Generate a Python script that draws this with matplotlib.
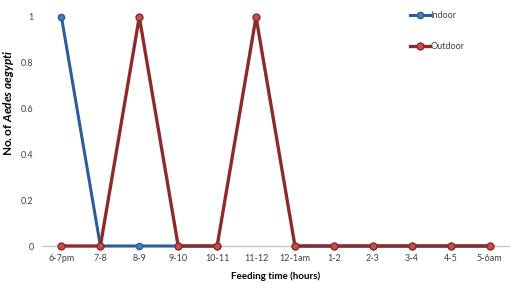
import matplotlib
matplotlib.use("Agg")
import matplotlib.pyplot as plt
import numpy as np

categories = ["6-7pm", "7-8", "8-9", "9-10", "10-11", "11-12", "12-1am",
              "1-2", "2-3", "3-4", "4-5", "5-6am"]
indoor = [1, 0, 0, 0, 0, np.nan, 0, 0, 0, 0, 0, 0]
outdoor = [0, 0, 1, 0, 0, 1, 0, 0, 0, 0, 0, 0]
yticks = [0, 0.2, 0.4, 0.6, 0.8, 1]
ytick_labels = ["0", "0.2", "0.4", "0.6", "0.8", "1"]

plt.rcParams['font.family'] = ['Lato', 'DejaVu Sans']
plt.rcParams['mathtext.fontset'] = 'custom'
plt.rcParams['mathtext.rm'] = 'Lato'
plt.rcParams['mathtext.bf'] = 'Lato:bold'
plt.rcParams['mathtext.it'] = 'Lato:italic'
plt.rcParams['mathtext.bfit'] = 'Lato:bold:italic'

fig = plt.figure(figsize=(5.11, 2.91), dpi=100)
ax = fig.add_axes([42/511, 1 - 246/291, 467/511, (246 - 17)/291])

x = list(range(len(categories)))
ax.plot(x, indoor, color="#2c5d98", lw=2.2, marker="o", ms=4.5,
        mfc="#4a7ebb", mec="#2c5d98", mew=1, label="Indoor", zorder=3)
ax.plot(x, outdoor, color="#8c2b2b", lw=2.4, marker="o", ms=5,
        mfc="#c0504d", mec="#8c2b2b", mew=1, label="Outdoor", zorder=4)

ax.set_xlim(-0.5, len(categories) - 0.5)
ax.set_ylim(0, 1)
ax.set_xticks(x)
ax.set_xticklabels(categories, fontsize=6.5, color="#404040")
ax.set_yticks(yticks)
ax.set_yticklabels(ytick_labels, fontsize=6.5, color="#404040")
ax.tick_params(length=0, pad=6)
ax.tick_params(axis="y", pad=6)
for s in ["top", "right", "left"]:
    ax.spines[s].set_visible(False)
ax.spines["bottom"].set_color("#c8c8c8")
ax.spines["bottom"].set_linewidth(1)
ax.spines["bottom"].set_zorder(1)
for line in ax.lines:
    line.set_clip_on(False)

ax.set_xlabel("Feeding time (hours)", fontsize=7, fontweight="bold", labelpad=6)
fig.text(9/511, 1 - 103/291, r"$\mathbf{No.of}\ \mathbfit{Aedes\ aegypti}$",
         fontsize=8.5, rotation=90, ha="center", va="center")

leg = ax.legend(loc="upper left", bbox_to_anchor=(0.77, 1.06), frameon=False,
                fontsize=6.5, handlelength=2.2, handletextpad=0.1,
                labelspacing=2.4)
for t in leg.get_texts():
    t.set_color("#404040")

fig.savefig("out.png", dpi=100)
